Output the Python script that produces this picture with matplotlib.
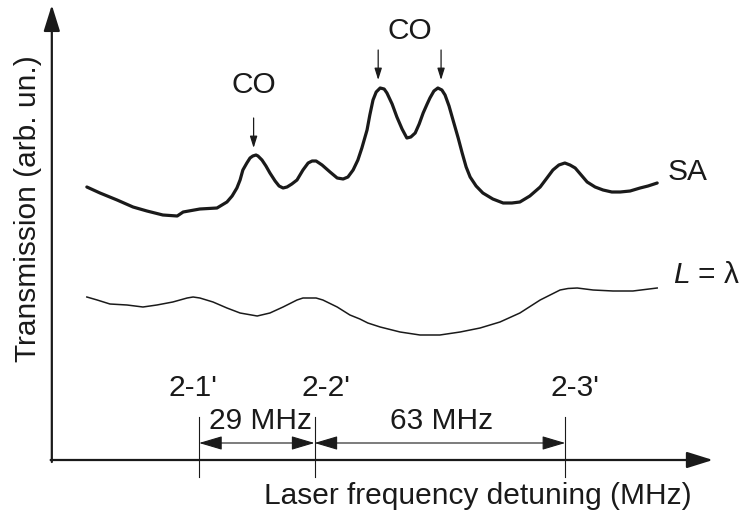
import matplotlib
matplotlib.use("Agg")
import matplotlib.pyplot as plt

plt.rcParams["font.family"] = ["Liberation Sans", "DejaVu Sans"]
plt.rcParams["mathtext.fontset"] = "custom"
plt.rcParams["mathtext.it"] = "Liberation Sans:italic"
plt.rcParams["mathtext.rm"] = "Liberation Sans"

# Saturated absorption trace (SA): detuning in MHz, transmission in arb. units
sa_freq = [-57.2, -53.9, -49.6, -45.6, -42.1, -38.1, -34.5, -33.0, -28.8, -24.5,
           -22.0, -20.7, -19.5, -18.7, -18.0, -17.0, -16.2, -15.5, -14.7, -14.2,
           -13.2, -12.2, -11.2, -9.9, -8.9, -7.9, -6.9, -5.7, -4.4, -2.9,
           -1.6, -0.6, 0.4, 1.9, 3.9, 5.7, 7.2, 8.4, 9.7, 10.9,
           11.9, 13.2, 13.9, 14.7, 15.5, 16.5, 17.5, 18.2, 19.5, 20.7,
           22.0, 23.2, 24.2, 25.3, 26.3, 27.3, 28.3, 29.0, 30.0, 31.0,
           32.0, 32.8, 33.8, 34.8, 36.1, 37.1, 38.1, 39.1, 40.6, 42.3,
           44.8, 47.4, 49.6, 51.6, 54.1, 56.7, 58.4, 59.9, 61.4, 62.9,
           64.2, 65.5, 67.0, 68.5, 70.5, 72.5, 74.7, 76.8, 79.3, 81.8,
           83.8, 86.1]
sa_trans = [2.73, 2.67, 2.60, 2.53, 2.49, 2.45, 2.44, 2.48, 2.51, 2.52,
            2.58, 2.64, 2.72, 2.80, 2.90, 2.97, 3.02, 3.04, 3.05, 3.04,
            3.00, 2.94, 2.87, 2.79, 2.74, 2.72, 2.73, 2.76, 2.80, 2.90,
            2.97, 2.99, 2.99, 2.95, 2.88, 2.82, 2.81, 2.83, 2.90, 3.00,
            3.12, 3.30, 3.45, 3.60, 3.68, 3.72, 3.71, 3.67, 3.56, 3.43,
            3.31, 3.22, 3.23, 3.27, 3.36, 3.47, 3.56, 3.62, 3.69, 3.72,
            3.70, 3.65, 3.54, 3.40, 3.22, 3.07, 2.93, 2.83, 2.74, 2.67,
            2.61, 2.57, 2.57, 2.58, 2.64, 2.73, 2.82, 2.90, 2.95, 2.97,
            2.95, 2.92, 2.85, 2.78, 2.73, 2.70, 2.68, 2.68, 2.69, 2.72,
            2.74, 2.77]

# Cell with L = lambda
lam_freq = [-57.2, -54.6, -51.4, -47.1, -43.1, -39.6, -35.6, -32.0, -30.5, -28.8,
            -25.5, -22.0, -18.7, -14.4, -11.2, -7.9, -4.4, -2.9, -1.1, 0.4,
            2.1, 5.7, 8.9, 11.4, 13.4, 16.5, 21.5, 26.5, 31.5, 36.6,
            41.6, 46.6, 51.6, 56.7, 61.7, 63.7, 66.0, 70.0, 75.0, 80.0, 86.1]
lam_trans = [1.63, 1.60, 1.56, 1.55, 1.53, 1.55, 1.58, 1.62, 1.63, 1.62,
             1.58, 1.52, 1.47, 1.44, 1.47, 1.53, 1.60, 1.62, 1.62, 1.62,
             1.60, 1.53, 1.45, 1.41, 1.37, 1.33, 1.28, 1.25, 1.25, 1.28,
             1.32, 1.38, 1.47, 1.60, 1.70, 1.715, 1.72, 1.70, 1.69, 1.69, 1.72]

# Hyperfine transitions and their positions (MHz)
transitions = ["2-1'", "2-2'", "2-3'"]
trans_freq = [-29, 0, 63]
spacings = ["29 MHz", "63 MHz"]

# CO crossover peaks marked with arrows
co_freq = [-15.3, 16.0, 31.8]

K = "#1a1a1a"
FS = 21.5

fig = plt.figure(figsize=(7.43, 5.19), dpi=100)
ax = fig.add_axes([0, 0, 1, 1])
ax.set_xlim(-79.02, 107.66)
ax.set_ylim(-0.59, 4.60)
ax.axis("off")

# axes drawn as arrows
x0 = -66.0
axis_head = "-|>,head_length=1.6,head_width=0.5"
ax.annotate("", xy=(x0, 4.55), xytext=(x0, -0.02),
            arrowprops=dict(arrowstyle=axis_head, lw=1.6, color=K,
                            mutation_scale=10, shrinkA=0, shrinkB=0))
ax.annotate("", xy=(100.1, 0.0), xytext=(x0 - 0.3, 0.0),
            arrowprops=dict(arrowstyle=axis_head, lw=1.6, color=K,
                            mutation_scale=10, shrinkA=0, shrinkB=0))

ax.plot(sa_freq, sa_trans, color=K, lw=2.3, solid_joinstyle="round",
        solid_capstyle="round")
ax.plot(lam_freq, lam_trans, color=K, lw=1.1, solid_joinstyle="round")

ax.text(88.8, 2.88, "SA", fontsize=FS, color=K, ha="left", va="center")
ax.text(90.0, 1.85, r"$\mathit{L}$ = λ", fontsize=FS, color=K, ha="left", va="center")

# CO labels and arrows
co_head = "-|>,head_length=0.7,head_width=0.22"
ax.text(co_freq[0], 3.75, "CO", fontsize=FS, color=K, ha="center", va="center")
ax.text((co_freq[1] + co_freq[2]) / 2, 4.29, "CO", fontsize=FS, color=K,
        ha="center", va="center")
for f, top, bot in [(co_freq[0], 3.42, 3.12), (co_freq[1], 4.10, 3.80),
                    (co_freq[2], 4.10, 3.80)]:
    ax.annotate("", xy=(f, bot), xytext=(f, top),
                arrowprops=dict(arrowstyle=co_head, lw=0.9, color=K,
                                mutation_scale=10, shrinkA=0, shrinkB=0))

# transition markers and spacings
label_shift = [-1.5, 2.9, 2.5]
for name, f, dx in zip(transitions, trans_freq, label_shift):
    ax.plot([f, f], [-0.17, 0.43], color=K, lw=0.8)
    ax.text(f + dx, 0.72, name, fontsize=FS, color=K, ha="center", va="center")

dim_head = "<|-|>,head_length=1.45,head_width=0.43"
for i, txt in enumerate(spacings):
    a, b = trans_freq[i], trans_freq[i + 1]
    ax.annotate("", xy=(b, 0.17), xytext=(a, 0.17),
                arrowprops=dict(arrowstyle=dim_head, lw=0.8, color=K,
                                mutation_scale=10, shrinkA=0, shrinkB=0))
    ax.text((a + b) / 2 + (1.0 if i == 0 else 0.5), 0.39, txt, fontsize=FS,
            color=K, ha="center", va="center")

ax.text(41.1, -0.36, "Laser frequency detuning (MHz)", fontsize=FS, color=K,
        ha="center", va="center")
ax.text(-72.0, 2.51, "Transmission (arb. un.)", fontsize=FS, color=K,
        ha="center", va="center", rotation=90)

fig.savefig("out.png", dpi=100)
